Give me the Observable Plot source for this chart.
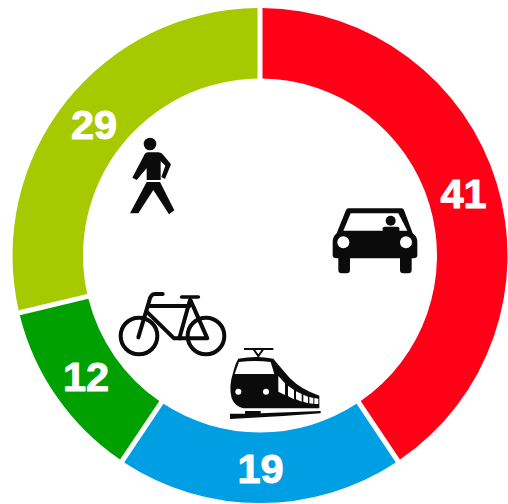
<!DOCTYPE html>
<html>
<head>
<meta charset="utf-8">
<script src="https://cdn.jsdelivr.net/npm/d3@7"></script>
<script src="https://cdn.jsdelivr.net/npm/@observablehq/plot@0.6"></script>
<style>html,body{margin:0;padding:0;background:#fff}svg{display:block}</style>
</head>
<body>
<div id="chart"></div>
<script>
const modes = ["Auto", "Bahn", "Velo", "Zu Fuss"];
const shares = [41, 19, 12, 29];
const colors = ["#ff0016", "#009fe3", "#00a000", "#a6c900"];

const table = modes.map((mode, i) => ({mode, share: shares[i], color: colors[i]}));
const pie = d3.pie().value(d => d.share).sort(null)(table);
const R = 247.5, r0 = 177, gap = 5;
const labels = pie.map(p => {
  const [cx, cy] = d3.arc().innerRadius(r0).outerRadius(R).centroid(p);
  return {x: cx, y: cy + 1, text: String(p.data.share)};
});

function ringMark(index, scales) {
  const g = d3.create("svg:g");
  const cx = scales.x(0), cy = scales.y(0);
  const k = scales.x(1) - scales.x(0);
  const arc = d3.arc()
    .innerRadius(r0 * k)
    .outerRadius(R * k)
    .padRadius(R * k)
    .padAngle(gap / (R * k));
  g.attr("transform", `translate(${cx},${cy})`);
  g.selectAll("path").data(pie).join("path")
    .attr("d", arc)
    .attr("fill", d => d.data.color);
  return g.node();
}

const ink = "#0b0b0b";
function icons() {
  const g = d3.create("svg:g");
  const add = (tx, ty, html) => g.append("g")
    .attr("transform", `translate(${tx},${ty}) scale(${1/3})`)
    .html(html);
  // car
  add(320, 195, `
    <path fill="${ink}" d="M85,40H245Q250,40 252,45L278,115Q292,125 292,140V180Q292,190 280,190H275V225Q275,235 265,235H250Q240,235 240,225V190H90V225Q90,235 80,235H65Q55,235 55,225V190H50Q38,190 38,180V140Q38,125 50,115L78,45Q80,40 85,40Z"/>
    <path fill="#fff" d="M92,55H235L262,107H70Z"/>
    <circle cx="212" cy="77" r="15" fill="${ink}"/>
    <path fill="${ink}" d="M188,108V100Q188,95 194,95H232Q238,95 238,100V108Z"/>
    <circle cx="70" cy="142" r="18" fill="#fff"/>
    <circle cx="258" cy="142" r="18" fill="#fff"/>`);
  // pedestrian
  add(120, 125, `
    <circle cx="90" cy="57" r="19" fill="${ink}"/>
    <path fill="${ink}" d="M85,82H115Q125,82 130,90L153,118L135,162L124,156L136,122L122,108V165H80V130L50,165L37,158L70,95Q75,82 85,82Z"/>
    <path fill="${ink}" d="M80,171H120L163,256L147,268L100,195L55,265H30Z"/>`);
  // bicycle
  add(110, 280, `
    <g fill="none" stroke="${ink}" stroke-width="12" stroke-linecap="round" stroke-linejoin="round">
      <circle cx="87" cy="168" r="55"/>
      <circle cx="288" cy="168" r="55"/>
      <path d="M85,172L118,62Q122,42 135,42H158"/>
      <path d="M116,78H238"/>
      <path d="M110,95L192,175H292L242,62"/>
      <path d="M208,175L240,60"/>
    </g>
    <path stroke="${ink}" stroke-width="11" stroke-linecap="round" d="M215,51H265"/>`);
  // train
  add(110, 280, `
    <path fill="none" stroke="${ink}" stroke-width="6" d="M402,207H490M430,207L445,228L460,207M445,226V238"/>
    <path fill="${ink}" d="M385,236Q440,226 490,236Q510,260 540,295Q575,330 628,347V385H400Q375,380 365,355Q355,320 370,275Q378,245 385,236Z"/>
    <path fill="#fff" d="M387,246Q435,240 482,246L493,282H374Z"/>
    <circle cx="385" cy="335" r="9" fill="#fff"/>
    <circle cx="468" cy="335" r="9" fill="#fff"/>
    <path fill="#fff" d="M505,288L525,310V345L505,335Z"/>
    <path fill="#fff" d="M534,317L552,330V358L534,348Z"/>
    <path fill="#fff" d="M558,334L575,342V365L558,358Z"/>
    <path fill="#fff" d="M580,344L594,350V370L580,365Z"/>
    <path fill="#fff" d="M598,351L610,354V371L598,370Z"/>
    <path fill="#fff" d="M613,354L625,356V372L613,372Z"/>
    <path fill="${ink}" d="M360,401H405V393H452V400L632,393V400L520,408L360,417Z"/>`);
  return g.node();
}

const plot = Plot.plot({
  width: 508,
  height: 504,
  margin: 0,
  style: {background: "#fff"},
  x: {domain: [-260, 248], range: [0, 508], axis: null},
  y: {domain: [-255.5, 248.5], range: [0, 504], axis: null},
  marks: [
    ringMark,
    () => icons(),
    Plot.text(labels, {
      x: "x",
      y: "y",
      text: "text",
      fill: "#fff",
      stroke: "#fff",
      strokeWidth: 1,
      fontSize: 41.5,
      fontWeight: 700,
      fontFamily: "Liberation Sans",
      letterSpacing: "-1px",
      textAnchor: "middle",
      lineAnchor: "middle"
    })
  ]
});
document.getElementById("chart").append(plot);
</script>
</body>
</html>
